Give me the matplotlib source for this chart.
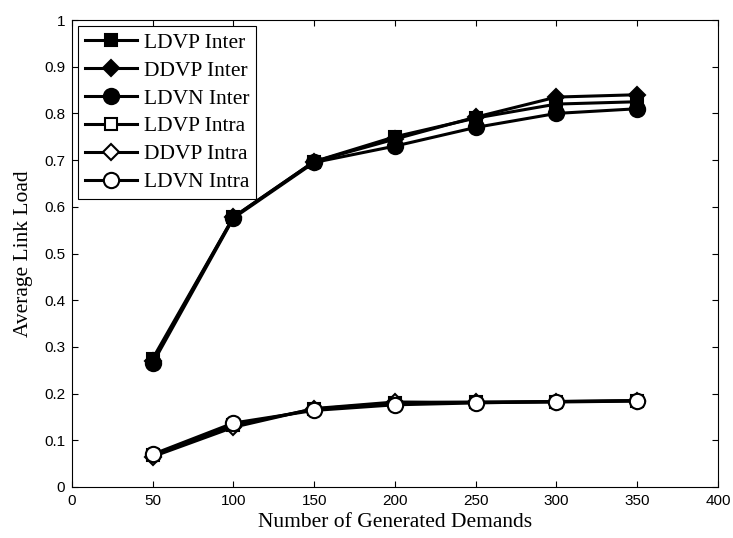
import matplotlib
matplotlib.use("Agg")
import matplotlib.pyplot as plt

demands = [50, 100, 150, 200, 250, 300, 350]

ldvp_inter = [0.275, 0.578, 0.697, 0.750, 0.790, 0.820, 0.825]
ddvp_inter = [0.270, 0.578, 0.697, 0.745, 0.792, 0.835, 0.840]
ldvn_inter = [0.265, 0.576, 0.695, 0.730, 0.770, 0.800, 0.810]
ldvp_intra = [0.068, 0.132, 0.167, 0.180, 0.182, 0.183, 0.185]
ddvp_intra = [0.065, 0.128, 0.168, 0.182, 0.181, 0.182, 0.184]
ldvn_intra = [0.070, 0.137, 0.164, 0.176, 0.180, 0.183, 0.185]

series = [
    ("LDVP Inter", ldvp_inter, "s", "black"),
    ("DDVP Inter", ddvp_inter, "D", "black"),
    ("LDVN Inter", ldvn_inter, "o", "black"),
    ("LDVP Intra", ldvp_intra, "s", "white"),
    ("DDVP Intra", ddvp_intra, "D", "white"),
    ("LDVN Intra", ldvn_intra, "o", "white"),
]
sizes = {"s": 9, "D": 8.5, "o": 11}

serif = ["Liberation Serif", "DejaVu Serif"]
sans = ["Liberation Sans", "DejaVu Sans"]

fig = plt.figure(figsize=(7.33, 5.38), dpi=100)
ax = fig.add_axes([0.0982, 0.0948, 0.8813, 0.868])

for label, vals, mk, fc in series:
    ax.plot(demands, vals, color="black", linewidth=2.2, marker=mk,
            markersize=sizes[mk], markerfacecolor=fc, markeredgecolor="black",
            markeredgewidth=1.5, label=label)

ax.set_xlim(0, 400)
ax.set_ylim(0, 1)
ax.set_xticks(range(0, 401, 50))
ax.set_yticks([i / 10 for i in range(11)])
ax.set_yticklabels(["0", "0.1", "0.2", "0.3", "0.4", "0.5", "0.6", "0.7", "0.8", "0.9", "1"])
ax.tick_params(direction="in", top=True, right=True, length=4, labelsize=11, pad=5)
for t in ax.get_xticklabels() + ax.get_yticklabels():
    t.set_family(sans)
for s in ax.spines.values():
    s.set_linewidth(0.8)

ax.set_xlabel("Number of Generated Demands", fontsize=15.5, family=serif, labelpad=4)
ax.set_ylabel("Average Link Load", fontsize=15.5, family=serif, labelpad=8)

leg = ax.legend(loc="upper left", prop={"family": serif, "size": 15.5},
                fancybox=False, edgecolor="black", framealpha=1,
                handlelength=2.4, borderpad=0.3, labelspacing=0.36,
                handletextpad=0.35, borderaxespad=0.3)
leg.get_frame().set_linewidth(0.8)

fig.savefig("out.png", dpi=100)
